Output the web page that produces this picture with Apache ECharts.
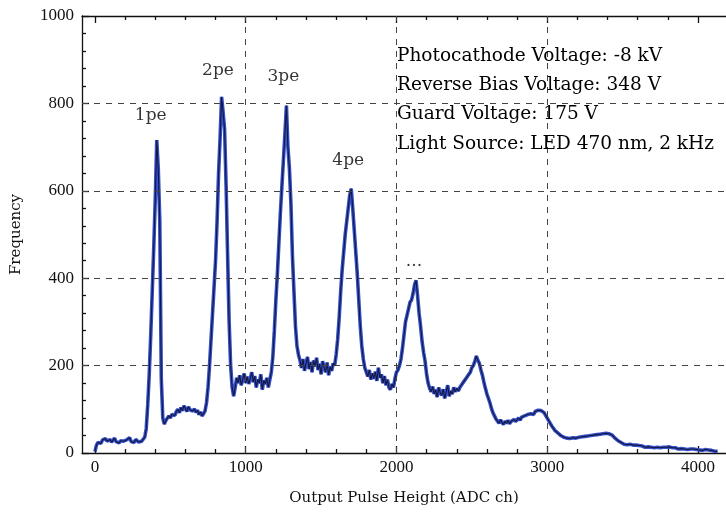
<!DOCTYPE html>
<html>
<head>
<meta charset="utf-8">
<script src="https://cdn.jsdelivr.net/npm/echarts@6/dist/echarts.min.js"></script>
<style>
  html, body { margin: 0; padding: 0; background: #fff; }
  #chart { width: 726px; height: 518px; }
</style>
</head>
<body>
<div id="chart"></div>
<script>
// Pulse-height spectrum, binned in ADC channels
const BIN_START = 0;
const BIN_WIDTH = 10;
const counts = [
  3, 18, 24, 28, 22, 30, 26, 33, 27, 24,
  31, 25, 29, 34, 26, 30, 23, 28, 32, 27,
  25, 30, 28, 35, 26, 29, 24, 31, 27, 25,
  28, 27, 30, 36, 55, 110, 180, 270, 370, 470,
  580, 716, 650, 530, 170, 80, 66, 74, 78, 85,
  80, 88, 92, 86, 95, 100, 92, 104, 97, 108,
  102, 95, 106, 99, 103, 96, 101, 93, 98, 88,
  94, 85, 90, 96, 115, 150, 200, 260, 320, 380,
  440, 530, 640, 720, 815, 780, 740, 610, 450, 300,
  200, 150, 130, 150, 172, 160, 178, 155, 168, 182,
  160, 175, 158, 170, 185, 162, 176, 150, 168, 160,
  180, 145, 166, 158, 172, 150, 168, 185, 220, 280,
  350, 410, 480, 550, 610, 670, 730, 795, 700, 650,
  570, 450, 370, 290, 245, 225, 212, 195, 215, 188,
  205, 220, 192, 208, 185, 212, 198, 218, 190, 204,
  180, 210, 196, 185, 207, 178, 198, 188, 205, 200,
  225, 260, 310, 370, 420, 460, 500, 530, 560, 590,
  605, 560, 510, 460, 410, 350, 290, 245, 215, 195,
  185, 175, 190, 168, 182, 170, 186, 165, 195, 172,
  180, 160, 176, 155, 168, 150, 145, 158, 150, 170,
  185, 190, 200, 215, 240, 270, 300, 315, 330, 345,
  350, 365, 385, 395, 360, 320, 290, 255, 230, 210,
  180, 160, 148, 140, 152, 135, 145, 128, 150, 138,
  132, 146, 125, 140, 155, 130, 142, 135, 150, 140,
  148, 142, 150, 155, 158, 165, 170, 172, 180, 185,
  195, 200, 210, 222, 212, 205, 190, 178, 162, 148,
  135, 125, 115, 102, 92, 85, 78, 74, 68, 76,
  70, 65, 73, 68, 75, 67, 72, 70, 77, 72,
  76, 80, 75, 82, 80, 85, 84, 88, 86, 90,
  92, 88, 95, 93, 98, 100, 97, 99, 92, 88,
  80, 76, 68, 62, 57, 52, 48, 46, 44, 40,
  38, 36, 39, 34, 37, 33, 36, 35, 38, 34,
  37, 36, 39, 37, 40, 38, 41, 39, 42, 40,
  43, 41, 44, 42, 45, 43, 46, 44, 47, 45,
  46, 44, 45, 41, 38, 34, 31, 28, 26, 24,
  22, 20, 21, 19, 18, 20, 17, 18, 16, 18,
  15, 17, 14, 16, 15, 13, 16, 14, 15, 13,
  15, 12, 14, 13, 15, 12, 14, 13, 11, 13,
  12, 14, 11, 12, 10, 12, 11, 9, 11, 10,
  12, 9, 10, 8, 10, 9, 8, 9, 7, 8,
  9, 7, 8, 6, 7, 8, 6, 7, 5, 6,
  5, 4, 5, 4
];

// Axis ticks and reference lines
const xMajorTicks = [0, 1000, 2000, 3000, 4000];
const xMinorTicks = [200, 400, 600, 800, 1200, 1400, 1600, 1800, 2200, 2400, 2600, 2800,
                     3200, 3400, 3600, 3800, 4200];
const xGridLines = [1000, 2000, 3000];
const yGridLines = [200, 400, 600, 800];

// Photoelectron peak annotations: [channel, frequency] anchors
const peakNames = ['1pe', '2pe', '3pe', '4pe', '...'];
const peakAnchors = [[370, 773], [816, 874], [1250, 862], [1680, 670], [2116, 437]];

// Run conditions
const infoLines = [
  'Photocathode Voltage: -8 kV',
  'Reverse Bias Voltage: 348 V',
  'Guard Voltage: 175 V',
  'Light Source: LED 470 nm, 2 kHz'
];

const spectrum = counts.map((c, i) => [BIN_START + i * BIN_WIDTH, c]);

const SERIF = '"Liberation Serif", "Times New Roman", serif';
const TEXT_SERIF = '"DejaVu Serif", serif';
const X_MIN = -86, X_MAX = 4186;
const INK = '#111';

const chart = echarts.init(document.getElementById('chart'), null, { renderer: 'canvas' });

const gridRect = { left: 82, right: 0, top: 16, bottom: 65 };
const plain = v => String(v);

chart.setOption({
  backgroundColor: '#ffffff',
  animation: false,
  grid: [
    Object.assign({ containLabel: false }, gridRect),
    Object.assign({ containLabel: false }, gridRect)
  ],
  xAxis: [
    {
      gridIndex: 0, type: 'value', position: 'bottom', min: X_MIN, max: X_MAX,
      name: 'Output Pulse Height (ADC ch)', nameLocation: 'middle', nameGap: 38,
      nameTextStyle: { fontFamily: TEXT_SERIF, fontSize: 15, color: INK },
      axisLine: { show: true, onZero: false, lineStyle: { color: INK, width: 1.3 } },
      axisTick: { show: true, inside: true, length: 7, customValues: xMajorTicks,
                  lineStyle: { color: INK, width: 1.3 } },
      axisLabel: { show: true, customValues: xMajorTicks, margin: 6, formatter: plain,
                   fontFamily: SERIF, fontSize: 17, color: INK },
      splitLine: { show: false }
    },
    {
      gridIndex: 0, type: 'value', position: 'top', min: X_MIN, max: X_MAX,
      axisLine: { show: true, onZero: false, lineStyle: { color: INK, width: 1.3 } },
      axisTick: { show: true, inside: true, length: 7, customValues: xMajorTicks,
                  lineStyle: { color: INK, width: 1.3 } },
      axisLabel: { show: false },
      splitLine: { show: false }
    },
    {
      gridIndex: 1, type: 'value', position: 'bottom', min: X_MIN, max: X_MAX,
      axisLine: { show: false },
      axisTick: { show: true, inside: true, length: 4, customValues: xMinorTicks,
                  lineStyle: { color: INK, width: 1.3 } },
      axisLabel: { show: false },
      splitLine: { show: false }
    },
    {
      gridIndex: 1, type: 'value', position: 'top', min: X_MIN, max: X_MAX,
      axisLine: { show: false },
      axisTick: { show: true, inside: true, length: 4, customValues: xMinorTicks,
                  lineStyle: { color: INK, width: 1.3 } },
      axisLabel: { show: false },
      splitLine: { show: false }
    }
  ],
  yAxis: [
    {
      gridIndex: 0, type: 'value', min: 0, max: 1000, interval: 200,
      name: 'Frequency', nameLocation: 'middle', nameGap: 58,
      nameTextStyle: { fontFamily: TEXT_SERIF, fontSize: 15, color: INK },
      axisLine: { show: true, onZero: false, lineStyle: { color: INK, width: 1.3 } },
      axisTick: { show: true, inside: true, length: 7, lineStyle: { color: INK, width: 1.3 } },
      minorTick: { show: true, splitNumber: 5, length: 4, lineStyle: { color: INK, width: 1.3 } },
      axisLabel: { margin: 8, formatter: plain, fontFamily: SERIF, fontSize: 17, color: INK },
      splitLine: { show: false }
    },
    {
      gridIndex: 1, type: 'value', min: 0, max: 1000, show: false
    }
  ],
  series: [
    {
      // dashed reference grid
      type: 'line', xAxisIndex: 0, yAxisIndex: 0, data: [], silent: true,
      markLine: {
        silent: true, symbol: 'none', animation: false,
        label: { show: false },
        lineStyle: { color: '#444', width: 1, type: [6, 6] },
        data: xGridLines.map(v => ({ xAxis: v })).concat(yGridLines.map(v => ({ yAxis: v })))
      },
      z: 1
    },
    {
      type: 'line', xAxisIndex: 0, yAxisIndex: 0, data: spectrum,
      showSymbol: false, symbol: 'none', smooth: false,
      lineStyle: { color: '#3550c8', width: 3.6 },
      z: 3
    },
    {
      type: 'line', xAxisIndex: 0, yAxisIndex: 0, data: spectrum,
      showSymbol: false, symbol: 'none', smooth: false,
      lineStyle: { color: '#0c0c28', width: 1.1, opacity: 0.85 },
      z: 4
    },
    {
      type: 'scatter', xAxisIndex: 0, yAxisIndex: 0, symbolSize: 0, silent: true,
      data: peakNames.map((n, i) => ({ name: n, value: peakAnchors[i] })),
      label: {
        show: true, position: 'inside', formatter: p => p.name,
        fontFamily: TEXT_SERIF, fontSize: 17, color: '#000'
      },
      z: 5
    }
  ],
  graphic: infoLines.map((t, i) => ({
    type: 'text', x: 397, y: 56 + i * 29.3, z: 10,
    style: { text: t, font: '18.5px ' + TEXT_SERIF, fill: '#000', verticalAlign: 'middle' }
  }))
});
</script>
</body>
</html>
